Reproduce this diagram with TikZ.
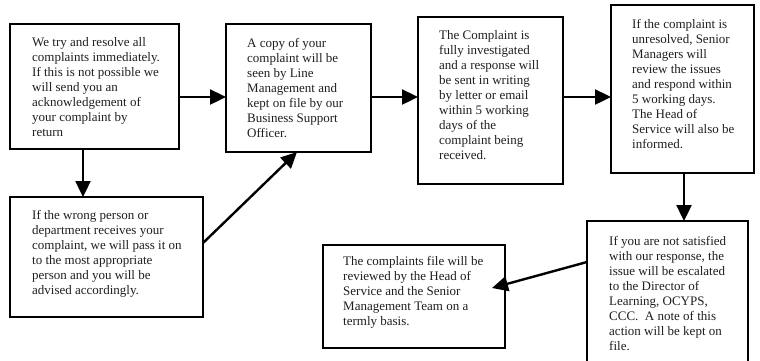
\documentclass[tikz,border=0pt]{standalone}
\usepackage{fontspec}
\setmainfont{Liberation Serif}
\usetikzlibrary{arrows.meta}
\begin{document}
\begin{tikzpicture}[x=1pt,y=-1pt,
  box/.style={draw=black, line width=1.8pt, fill=white, rectangle, anchor=north west, inner sep=0pt, outer sep=0pt},
  txt/.style={anchor=north west, inner sep=0pt, align=left, font=\fontsize{13}{15}\selectfont, text=black!88},
  arr/.style={line width=2.4pt, -{Triangle[length=16pt,width=15pt]}},
  ln/.style={line width=2.4pt}]
\useasboundingbox (0,0) rectangle (760,360);
% boxes
\node[box, minimum width=169pt, minimum height=125pt] (A) at (10,24) {};
\node[box, minimum width=193pt, minimum height=120pt] (B) at (10,197) {};
\node[box, minimum width=145pt, minimum height=128pt] (C) at (226,24) {};
\node[box, minimum width=145pt, minimum height=167pt] (D) at (418,17) {};
\node[box, minimum width=143pt, minimum height=168pt] (E) at (611,5) {};
\node[box, minimum width=161pt, minimum height=150pt] (F) at (587,221) {};
\node[box, minimum width=182pt, minimum height=103pt] (G) at (323,245) {};
% texts
\node[txt] (tA) at (32,37) {We try and resolve all\\complaints immediately.\\If this is not possible we\\will send you an\\acknowledgement of\\your complaint by\\return};
\node[txt] (tB) at (32,210) {If the wrong person or\\department receives your\\complaint, we will pass it on\\to the most appropriate\\person and you will be\\advised accordingly.};
\node[txt] (tC) at (247,38) {A copy of your\\complaint will be\\seen by Line\\Management and\\kept on file by our\\Business Support\\Officer.};
\node[txt] (tD) at (439,30) {The Complaint is\\fully investigated\\and a response will\\be sent in writing\\by letter or email\\within 5 working\\days of the\\complaint being\\received.};
\node[txt] (tE) at (632,19) {If the complaint is\\unresolved, Senior\\Managers will\\review the issues\\and respond within\\5 working days.\\The Head of\\Service will also be\\informed.};
\node[txt] (tF) at (609,236) {If you are not satisfied\\with our response, the\\issue will be escalated\\to the Director of\\Learning, OCYPS,\\CCC.\ \ A note of this\\action will be kept on\\file.};
\node[txt] (tG) at (343,256) {The complaints file will be\\reviewed by the Head of\\Service and the Senior\\Management Team on a\\termly basis.};
% helper coordinates
\coordinate (row) at (0,97);
\coordinate (colA) at (83,0);
\coordinate (colE) at (684,0);
\coordinate (bcy) at (0,243);
\coordinate (bcx) at (297,0);
\coordinate (fgy) at (0,262);
\coordinate (tipG) at (492,288);
% connectors
\draw[arr] (A.east |- row) -- (C.west |- row);
\draw[arr] (C.east |- row) -- (D.west |- row);
\draw[arr] (D.east |- row) -- (E.west |- row);
\draw[arr] (A.south -| colA) -- (B.north -| colA);
\draw[arr] (B.east |- bcy) -- (C.south -| bcx);
\draw[arr] (E.south -| colE) -- (F.north -| colE);
\draw[arr] (F.west |- fgy) -- (tipG);
\end{tikzpicture}
\end{document}
